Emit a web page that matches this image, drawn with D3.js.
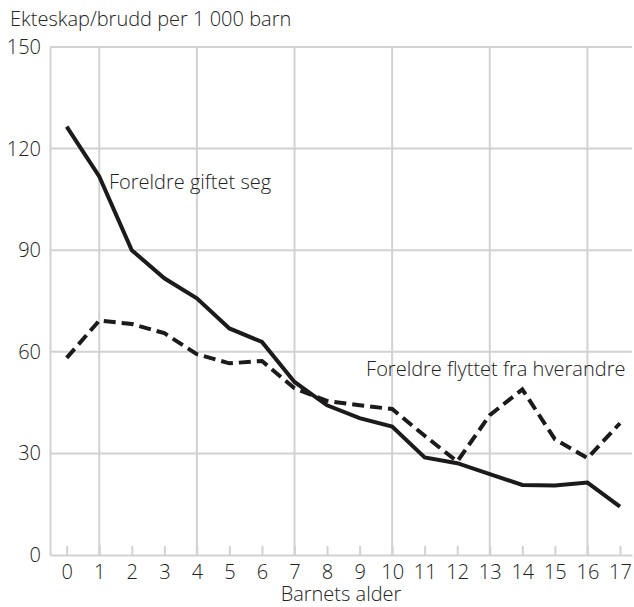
<!DOCTYPE html>
<html>
<head>
<meta charset="utf-8">
<script src="https://cdn.jsdelivr.net/npm/d3@7"></script>
<style>
  body { margin: 0; background: #fff; }
  text { font-family: "Open Sans", sans-serif; font-weight: 300; fill: #222; }
</style>
</head>
<body>
<div id="chart"></div>
<script>
// barnets alder 0-17
var ages = d3.range(0, 18);
// ekteskap (foreldre giftet seg) per 1 000 barn
var giftet = [126.5, 111.8, 90, 81.7, 75.8, 66.9, 62.9, 51.1, 44.2, 40.4, 37.9, 28.8, 27.1, 23.9, 20.7, 20.5, 21.4, 14.3];
// brudd (foreldre flyttet fra hverandre) per 1 000 barn
var flyttet = [58.2, 69.2, 68.2, 65.5, 59.3, 56.6, 57.3, 49.2, 45.5, 44.2, 43.1, 35.2, 27.6, 41.3, 48.9, 34.2, 28.6, 38.9];
var yTicks = [0, 30, 60, 90, 120, 150];
var xGrid = [1, 4, 7, 10, 13, 16];

var margin = {top: 47, right: 2, bottom: 52, left: 50},
    width = 634 - margin.left - margin.right,
    height = 607 - margin.top - margin.bottom;

var svg = d3.select("#chart")
  .append("svg")
    .attr("width", 634)
    .attr("height", 607)
  .append("g")
    .attr("transform", "translate(" + margin.left + "," + margin.top + ")");

var x = d3.scaleLinear()
  .domain([-0.513, 17.37])
  .range([0, width]);

var y = d3.scaleLinear()
  .domain([0, 150])
  .range([height, 0]);

var grid = "#d2d2d2";

// gridlines
svg.selectAll(".hgrid")
  .data(yTicks.filter(function(d) { return d > 0; }))
  .enter()
  .append("line")
    .attr("x1", 0)
    .attr("x2", width)
    .attr("y1", function(d) { return y(d); })
    .attr("y2", function(d) { return y(d); })
    .attr("stroke", grid)
    .attr("stroke-width", 2);

svg.selectAll(".vgrid")
  .data(xGrid)
  .enter()
  .append("line")
    .attr("x1", function(d) { return x(d); })
    .attr("x2", function(d) { return x(d); })
    .attr("y1", 0)
    .attr("y2", height)
    .attr("stroke", grid)
    .attr("stroke-width", 2);

// X axis
var xAxis = svg.append("g")
  .attr("transform", "translate(0," + height + ")")
  .call(d3.axisBottom(x).tickValues(ages).tickSizeInner(-9).tickSizeOuter(0).tickPadding(10));
xAxis.select(".domain").attr("stroke", grid).attr("stroke-width", 2);
xAxis.selectAll(".tick line").attr("stroke", grid).attr("stroke-width", 2);
xAxis.selectAll("text")
  .style("font-family", "Open Sans")
  .style("font-size", "20px")
  .attr("fill", "#222");

// Y axis
var yAxis = svg.append("g")
  .call(d3.axisLeft(y).tickValues(yTicks).tickSize(0).tickPadding(9));
yAxis.select(".domain").attr("stroke", grid).attr("stroke-width", 2);
yAxis.selectAll("text")
  .style("font-family", "Open Sans")
  .style("font-size", "20px")
  .attr("fill", "#222");

// titles
svg.append("text")
  .attr("x", -40)
  .attr("y", -21)
  .style("font-size", "20px")
  .text("Ekteskap/brudd per 1 000 barn");

svg.append("text")
  .attr("x", width / 2)
  .attr("y", height + 46)
  .style("text-anchor", "middle")
  .style("font-size", "20px")
  .text("Barnets alder");

// lines
var line = d3.line()
  .x(function(d, i) { return x(ages[i]); })
  .y(function(d) { return y(d); });

svg.append("path")
  .datum(flyttet)
  .attr("d", line)
  .attr("fill", "none")
  .attr("stroke", "#1c1a1a")
  .attr("stroke-width", 4)
  .attr("stroke-dasharray", "12,6");

svg.append("path")
  .datum(giftet)
  .attr("d", line)
  .attr("fill", "none")
  .attr("stroke", "#1c1a1a")
  .attr("stroke-width", 4);

// line labels
svg.append("text")
  .attr("x", x(1.3))
  .attr("y", y(108))
  .style("font-size", "20px")
  .text("Foreldre giftet seg");

svg.append("text")
  .attr("x", x(9.2))
  .attr("y", y(53))
  .style("font-size", "20px")
  .text("Foreldre flyttet fra hverandre");
</script>
</body>
</html>
